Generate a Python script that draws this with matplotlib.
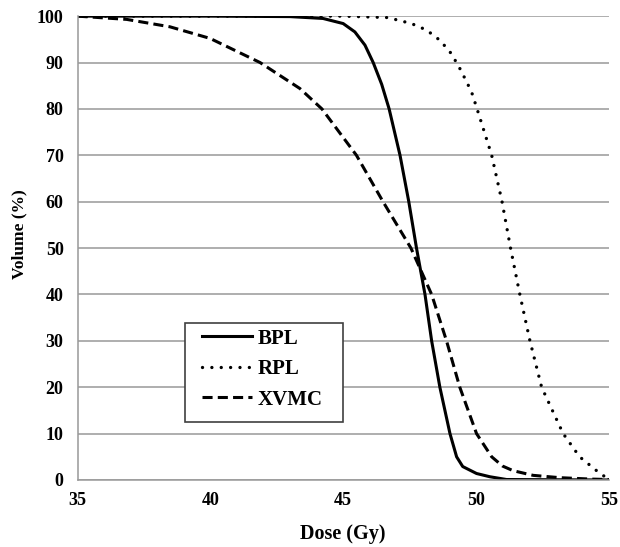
import matplotlib
matplotlib.use("Agg")
import matplotlib.pyplot as plt
from matplotlib.patches import Rectangle

# dose-volume readings (Gy, %)
bpl_dose = [35, 40, 43, 44.24, 45.0, 45.44, 45.82, 46.13, 46.45, 46.73, 47.14, 47.47, 47.76,
            48.08, 48.33, 48.64, 49.02, 49.27, 49.5, 50.02, 50.52, 51.15, 55]
bpl_vol = [100, 100, 99.9, 99.5, 98.4, 96.6, 93.75, 90, 85.3, 80, 70, 60, 50,
           40, 30, 20, 10, 5, 2.9, 1.4, 0.7, 0.1, 0]

rpl_dose = [35, 45, 46.65, 46.95, 47.57, 48.14, 48.64, 49.02, 49.33, 49.58, 49.83, 50.04,
            50.59, 50.98, 51.3, 51.65, 52.03, 52.47, 53.28, 53.9, 54.54, 54.9]
rpl_vol = [100, 100, 99.7, 99.3, 98.4, 97.0, 94.8, 92.3, 89.4, 86.6, 83.7, 80,
           70, 60, 50, 40, 30, 20, 10, 5, 2, 0.5]

xvmc_dose = [35, 36.85, 38.48, 39.99, 41.87, 43.37, 44.2, 45.5, 46.5, 47.55,
             48.33, 48.89, 49.39, 50.02, 50.59, 51.0, 51.4, 52.15, 53.15, 54.3, 55]
xvmc_vol = [100, 99.3, 97.7, 95.2, 90, 84.4, 80, 70, 60, 50,
            40, 30, 20, 10, 5, 3, 2, 1, 0.5, 0.2, 0.1]

xticks = [35, 40, 45, 50, 55]
yticks = list(range(0, 101, 10))

plt.rcParams['font.family'] = ['Liberation Serif', 'DejaVu Serif']
plt.rcParams['font.weight'] = 'bold'

fig = plt.figure(figsize=(6.2, 5.47), dpi=100)
ax = fig.add_axes([0.125, 0.1225, 0.857, 0.848])

ax.plot(bpl_dose, bpl_vol, color='black', lw=2.2, ls='-', label='BPL')
ax.plot(rpl_dose, rpl_vol, color='black', lw=2.4, ls=(0, (0.01, 2.8)),
        dash_capstyle='round', label='RPL')
ax.plot(xvmc_dose, xvmc_vol, color='black', lw=2.2, ls=(0, (3.3, 1.7)), label='XVMC')

ax.set_xlim(35, 55)
ax.set_ylim(0, 100)
ax.set_xticks(xticks)
ax.set_yticks(yticks)
ax.yaxis.grid(True, color='#999999', lw=1.1)
ax.set_axisbelow(True)
ax.tick_params(axis='y', length=0, labelsize=13, pad=10)
ax.tick_params(axis='x', length=0, labelsize=13, pad=9)
for lab in ax.get_xticklabels() + ax.get_yticklabels():
    lab.set_fontweight('bold')

for side in ['top', 'right']:
    ax.spines[side].set_visible(False)
for side in ['left', 'bottom']:
    ax.spines[side].set_color('#999999')
    ax.spines[side].set_linewidth(1.1)

ax.set_xlabel('Dose (Gy)', fontsize=14.5, fontweight='bold')
ax.xaxis.set_label_coords(0.5, -0.094)
ax.set_ylabel('Volume (%)', fontsize=12.5, fontweight='bold')
ax.yaxis.set_label_coords(-0.095, 0.53)

# legend frame drawn separately so the inner padding matches
ax.add_patch(Rectangle((0.2023, 0.125), 0.2972, 0.213, transform=ax.transAxes,
                       facecolor='white', edgecolor='#404040', lw=1.2, zorder=4))
leg = ax.legend(loc='upper left', bbox_to_anchor=(0.2337, 0.326), borderaxespad=0,
                borderpad=0, fontsize=15, frameon=False, handlelength=2.4,
                handletextpad=0.3, labelspacing=0.5)
leg.set_zorder(5)
for t in leg.get_texts():
    t.set_fontweight('bold')

fig.savefig('out.png', dpi=100)
